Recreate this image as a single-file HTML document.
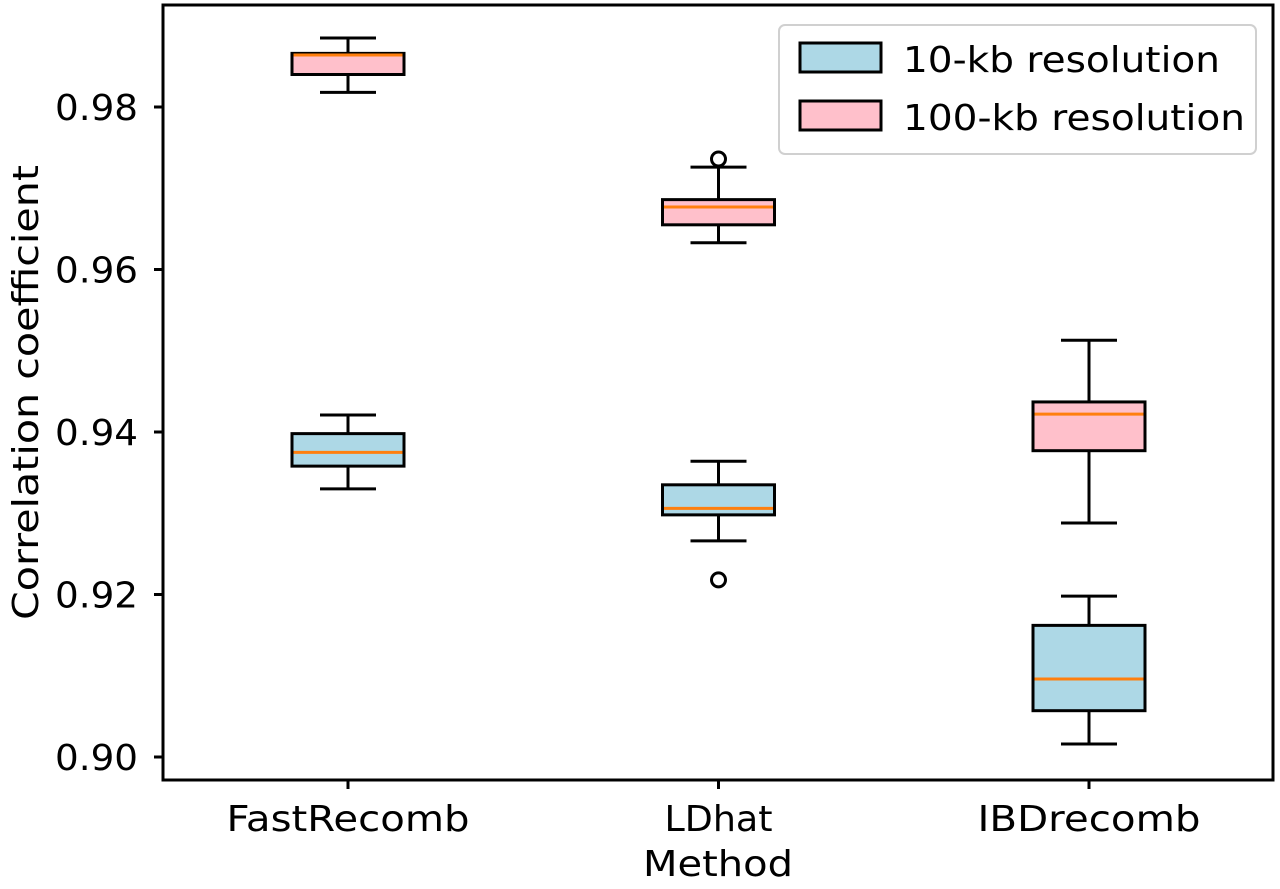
<!DOCTYPE html>
<html><head><meta charset="utf-8"><style>
body{margin:0;background:#fff;}
svg text{font-family:"DejaVu Sans","Liberation Sans",sans-serif;fill:#000;}
</style></head><body>
<svg id="chart" width="1280" height="884" xmlns="http://www.w3.org/2000/svg">
<g id="plot"></g>
<g id="legend">
  <rect x="779" y="25" width="477" height="129" rx="6" fill="#fff" stroke="#d0d0d0" stroke-width="2"/>
  <g>
    <rect x="800" y="43" width="81" height="29" fill="#add8e6" stroke="#000" stroke-width="3"/>
    <text x="903" y="72" font-size="36" textLength="317" lengthAdjust="spacingAndGlyphs">10-kb resolution</text>
  </g>
  <g>
    <rect x="800" y="101" width="81" height="29" fill="#ffc0cb" stroke="#000" stroke-width="3"/>
    <text x="903" y="130" font-size="36" textLength="342" lengthAdjust="spacingAndGlyphs">100-kb resolution</text>
  </g>
</g>
</svg>
<script>
const categories = ["FastRecomb", "LDhat", "IBDrecomb"];
const yTicks = [0.90, 0.92, 0.94, 0.96, 0.98];
const yTickLabels = ["0.90", "0.92", "0.94", "0.96", "0.98"];
// [low whisker, Q1, median, Q3, high whisker]
const stats10kb = [
  [0.9330, 0.9358, 0.9375, 0.9398, 0.9421],
  [0.9266, 0.9298, 0.9306, 0.9335, 0.9364],
  [0.9016, 0.9057, 0.9096, 0.9162, 0.9198]
];
const stats100kb = [
  [0.9818, 0.9840, 0.9864, 0.9866, 0.9885],
  [0.9633, 0.9655, 0.9677, 0.9686, 0.9726],
  [0.9288, 0.9377, 0.9422, 0.9437, 0.9513]
];
const fliers10kb = [[], [0.9218], []];
const fliers100kb = [[], [0.9736], []];

const NS = "http://www.w3.org/2000/svg";
const plot = document.getElementById("plot");
const L = 163, R = 1273, T = 5, B = 780;
const catWidths = [243, 108, 223];
function y(v){ return 757 - (v - 0.90) * 8125; }
function x(i){ return 348 + i * 370.5; }
function mk(tag, attrs, parent){
  const e = document.createElementNS(NS, tag);
  for (const k in attrs) e.setAttribute(k, attrs[k]);
  (parent || plot).appendChild(e);
  return e;
}
const frame = mk("rect", {x:L, y:T, width:R-L, height:B-T, fill:"none", stroke:"#000", "stroke-width":3});


yTicks.forEach((v, i) => {
  const t = mk("line", {x1:L-9, x2:L, y1:y(v), y2:y(v), stroke:"#000", "stroke-width":3});
  
  
  const lb = mk("text", {x:55, y:y(v)+13, "font-size":36, textLength:83, lengthAdjust:"spacingAndGlyphs"});
  lb.textContent = yTickLabels[i];
  
  
});
categories.forEach((c, i) => {
  const t = mk("line", {x1:x(i), x2:x(i), y1:B, y2:B+9, stroke:"#000", "stroke-width":3});
  
  
  const lb = mk("text", {x:x(i)-catWidths[i]/2, y:831, "font-size":36, textLength:catWidths[i], lengthAdjust:"spacingAndGlyphs"});
  lb.textContent = c;
  
  
});
const xt = mk("text", {x:643, y:876, "font-size":36, textLength:150, lengthAdjust:"spacingAndGlyphs"});
xt.textContent = "Method";


const yt = mk("text", {x:-228, y:0, "font-size":36, textLength:455, lengthAdjust:"spacingAndGlyphs", transform:"translate(38,392) rotate(-90)"});
yt.textContent = "Correlation coefficient";



function drawBox(i, s, fl, fill, name){
  const g = mk("g", {});
  
  
  const cx = x(i), hw = 56, cap = 28;
  mk("line", {x1:cx, x2:cx, y1:y(s[0]), y2:y(s[1]), stroke:"#000", "stroke-width":3}, g);
  mk("line", {x1:cx, x2:cx, y1:y(s[3]), y2:y(s[4]), stroke:"#000", "stroke-width":3}, g);
  mk("line", {x1:cx-cap, x2:cx+cap, y1:y(s[0]), y2:y(s[0]), stroke:"#000", "stroke-width":3}, g);
  mk("line", {x1:cx-cap, x2:cx+cap, y1:y(s[4]), y2:y(s[4]), stroke:"#000", "stroke-width":3}, g);
  mk("rect", {x:cx-hw, y:y(s[3]), width:2*hw, height:y(s[1])-y(s[3]), fill:fill, stroke:"#000", "stroke-width":3}, g);
  mk("line", {x1:cx-hw+1.5, x2:cx+hw-1.5, y1:y(s[2]), y2:y(s[2]), stroke:"#ff7f0e", "stroke-width":3}, g);
  fl.forEach(v => {
    const c = mk("circle", {cx:cx, cy:y(v), r:7, fill:"none", stroke:"#000", "stroke-width":3}, g);
    
    
  });
}
categories.forEach((c, i) => {
  drawBox(i, stats10kb[i], fliers10kb[i], "#add8e6", "box-10kb-" + c.toLowerCase());
  drawBox(i, stats100kb[i], fliers100kb[i], "#ffc0cb", "box-100kb-" + c.toLowerCase());
});
</script>
</body></html>
